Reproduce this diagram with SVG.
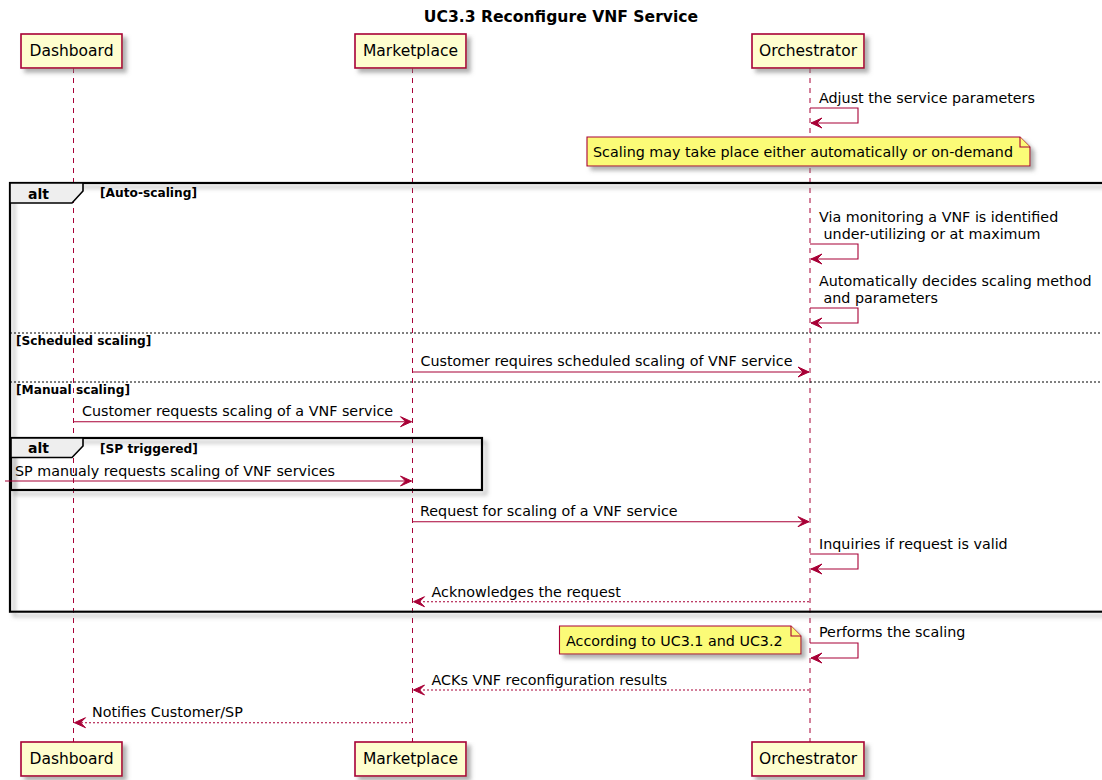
<svg xmlns="http://www.w3.org/2000/svg" width="1102" height="780" viewBox="0 0 1102 780">
<defs>
<filter id="sh" x="-10%" y="-10%" width="130%" height="150%">
<feGaussianBlur in="SourceAlpha" stdDeviation="2"/>
<feOffset dx="4" dy="4" result="b"/>
<feColorMatrix in="b" type="matrix" values="0 0 0 0 0.2  0 0 0 0 0.2  0 0 0 0 0.2  0 0 0 0.6 0"/>
<feMerge><feMergeNode/><feMergeNode in="SourceGraphic"/></feMerge>
</filter>
<marker id="ah" markerUnits="userSpaceOnUse" markerWidth="13" markerHeight="11" refX="11" refY="5" orient="auto" overflow="visible">
<path d="M0,0 L11,5 L0,10 L5,5 Z" fill="#A80036" stroke="#A80036" stroke-width="1" stroke-linejoin="miter"/>
</marker>
</defs>
<style>
text{font-family:"DejaVu Sans","Liberation Sans",sans-serif;fill:#000}
.t{font-size:15.6px;font-weight:bold}
.p{font-size:15.5px;text-anchor:middle}
.m{font-size:14.3px}
.g{font-size:12.2px;font-weight:bold}
.a{font-size:14px;font-weight:bold}
.box{fill:#FEFECE;stroke:#A80036;stroke-width:1.6}
.life{stroke:#A80036;stroke-width:1;stroke-dasharray:5,5;fill:none}
.note{fill:#FBFB77;stroke:#A80036;stroke-width:1.1}
.msg{stroke:#A80036;stroke-width:1.1;fill:none}
.ret{stroke:#A80036;stroke-width:1.1;fill:none;stroke-dasharray:2,2}
.frame{fill:none;stroke:#000;stroke-width:2.2}
.tab{fill:#EEEEEE;stroke:#000;stroke-width:1.6}
.sep{stroke:#000;stroke-width:1;stroke-dasharray:2,2}
</style>
<rect width="1102" height="780" fill="#fff"/>
<text class="t" x="561" y="22" text-anchor="middle">UC3.3 Reconfigure VNF Service</text>

<g id="lifelines">
<line class="life" x1="73.5" y1="68" x2="73.5" y2="742"/>
<line class="life" x1="412.5" y1="68" x2="412.5" y2="742"/>
<line class="life" x1="810" y1="68" x2="810" y2="742"/>
</g>

<g id="alt-outer">
<rect class="frame" x="10" y="183" width="1100" height="428.7" filter="url(#sh)"/>
<path class="tab" d="M10,183 H83 V191 L72,203 H10 Z"/>
<text class="a" x="28" y="199">alt</text>
<text class="g" x="100" y="197">[Auto-scaling]</text>
<line class="sep" x1="10" y1="333" x2="1102" y2="333"/>
<text class="g" x="16" y="345">[Scheduled scaling]</text>
<line class="sep" x1="10" y1="382" x2="1102" y2="382"/>
<text class="g" x="16" y="394">[Manual scaling]</text>
</g>

<g id="alt-inner">
<rect x="11" y="438" width="471" height="52" fill="#fff" fill-opacity="0" stroke="#000" stroke-width="2.2" filter="url(#sh)"/>
<path class="tab" d="M11,438 H83 V446 L72,457.5 H11 Z"/>
<text class="a" x="28" y="453">alt</text>
<text class="g" x="100" y="452.5">[SP triggered]</text>
</g>

<g id="dashboard">
<rect class="box" x="21" y="34" width="101" height="34" filter="url(#sh)"/>
<text class="p" x="71.5" y="56">Dashboard</text>
<rect class="box" x="21" y="742" width="101" height="34" filter="url(#sh)"/>
<text class="p" x="71.5" y="764">Dashboard</text>
</g>
<g id="marketplace">
<rect class="box" x="355" y="34" width="111" height="34" filter="url(#sh)"/>
<text class="p" x="410.5" y="56">Marketplace</text>
<rect class="box" x="355" y="742" width="111" height="34" filter="url(#sh)"/>
<text class="p" x="410.5" y="764">Marketplace</text>
</g>
<g id="orchestrator">
<rect class="box" x="752" y="34" width="112" height="34" filter="url(#sh)"/>
<text class="p" x="808" y="56">Orchestrator</text>
<rect class="box" x="752" y="742" width="112" height="34" filter="url(#sh)"/>
<text class="p" x="808" y="764">Orchestrator</text>
</g>

<g id="note1">
<path class="note" d="M587,137 H1020 L1030,147 V166 H587 Z" filter="url(#sh)"/>
<path class="note" d="M1020,137 V147 H1030" fill="none"/>
<text class="m" x="593" y="157">Scaling may take place either automatically or on-demand</text>
</g>
<g id="note2">
<path class="note" d="M559.5,626 H791 L801,636 V654 H559.5 Z" filter="url(#sh)"/>
<path class="note" d="M791,626 V636 H801" fill="none"/>
<text class="m" x="566" y="645.5">According to UC3.1 and UC3.2</text>
</g>

<g id="connectors">
<path class="msg" d="M810,108 H858 V123 H811" marker-end="url(#ah)"/>
<text class="m" x="819" y="103">Adjust the service parameters</text>

<path class="msg" d="M810,244 H858 V259 H811" marker-end="url(#ah)"/>
<text class="m" x="819" y="221.5">Via monitoring a VNF is identified</text>
<text class="m" x="819" y="238.5" xml:space="preserve"> under-utilizing or at maximum</text>

<path class="msg" d="M810,308 H858 V323 H811" marker-end="url(#ah)"/>
<text class="m" x="819" y="286">Automatically decides scaling method</text>
<text class="m" x="819" y="302.5" xml:space="preserve"> and parameters</text>

<line class="msg" x1="413" y1="372" x2="809" y2="372" marker-end="url(#ah)"/>
<text class="m" x="420.5" y="366">Customer requires scheduled scaling of VNF service</text>

<line class="msg" x1="74" y1="421.7" x2="411.5" y2="421.7" marker-end="url(#ah)"/>
<text class="m" x="82" y="415.7">Customer requests scaling of a VNF service</text>

<line class="msg" x1="5" y1="481" x2="411.5" y2="481" marker-end="url(#ah)"/>
<text class="m" x="15" y="476">SP manualy requests scaling of VNF services</text>

<line class="msg" x1="413" y1="521.7" x2="809" y2="521.7" marker-end="url(#ah)"/>
<text class="m" x="420" y="516">Request for scaling of a VNF service</text>

<path class="msg" d="M810,554 H858 V569 H811" marker-end="url(#ah)"/>
<text class="m" x="819" y="549">Inquiries if request is valid</text>

<line class="ret" x1="809" y1="601.7" x2="413.5" y2="601.7" marker-end="url(#ah)"/>
<text class="m" x="431.5" y="596.5">Acknowledges the request</text>

<path class="msg" d="M810,643 H858 V658 H811" marker-end="url(#ah)"/>
<text class="m" x="819" y="637">Performs the scaling</text>

<line class="ret" x1="809" y1="690" x2="413.5" y2="690" marker-end="url(#ah)"/>
<text class="m" x="431.5" y="684.5">ACKs VNF reconfiguration results</text>

<line class="ret" x1="411" y1="722.7" x2="74.5" y2="722.7" marker-end="url(#ah)"/>
<text class="m" x="92" y="716.5">Notifies Customer/SP</text>
</g>
</svg>
